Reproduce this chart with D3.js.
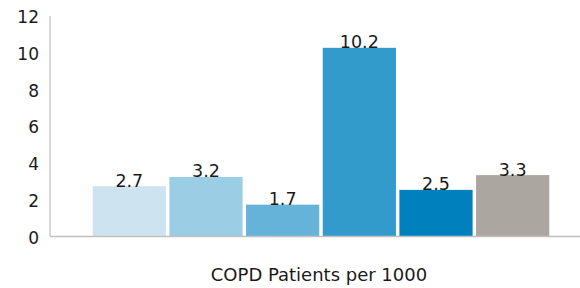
<!DOCTYPE html>
<html>
<head>
<meta charset="utf-8">
<script src="https://cdn.jsdelivr.net/npm/d3@7"></script>
<style>
  body { margin: 0; background: #fff; }
  text { font-family: "DejaVu Sans", Verdana, sans-serif; fill: #1a1a1a; }
</style>
</head>
<body>
<div id="chart"></div>
<script>
var categories = ['s1', 's2', 's3', 's4', 's5', 's6'];
var values = [2.7, 3.2, 1.7, 10.2, 2.5, 3.3];
var colors = ['#cde4f0', '#9bcde5', '#66b3d9', '#339bcc', '#0081be', '#aba69f'];
var yTicks = [0, 2, 4, 6, 8, 10, 12];
var title = 'COPD Patients per 1000';

function createChart() {
    var svg = d3.select('#chart')
        .append('svg')
        .attr('width', 580)
        .attr('height', 288);

    var x = d3.scaleBand()
        .domain(categories)
        .range([91, 551])
        .paddingInner(0.045)
        .paddingOuter(0.0225);

    var y = d3.scaleLinear()
        .domain([0, 12])
        .range([236, 14.6]);

    // bars
    svg.append('g')
        .selectAll('rect')
        .data(values)
        .enter()
        .append('rect')
        .attr('x', (d, i) => x(categories[i]))
        .attr('width', x.bandwidth())
        .attr('y', d => y(d))
        .attr('height', d => y(0) - y(d))
        .style('fill', (d, i) => colors[i]);

    // value labels
    svg.append('g')
        .selectAll('text')
        .data(values)
        .enter()
        .append('text')
        .text(d => d.toFixed(1))
        .attr('x', (d, i) => x(categories[i]) + x.bandwidth() / 2)
        .attr('y', d => y(d) + 0.5)
        .style('font-size', '17.5px')
        .style('text-anchor', 'middle');

    // y axis
    var yAxis = svg.append('g')
        .attr('transform', 'translate(50,0)')
        .call(d3.axisLeft(y).tickValues(yTicks).tickSize(0).tickPadding(11));
    yAxis.select('.domain').attr('stroke', '#c0c0c0').attr('stroke-width', 1.2)
        .attr('d', 'M0,16V' + y(0));
    yAxis.selectAll('text')
        .style('font-size', '17px')
        .attr('dy', '0.45em')
        .style('fill', '#1a1a1a');

    // x baseline
    svg.append('line')
        .attr('x1', 50)
        .attr('x2', 580)
        .attr('y1', y(0) + 0.5)
        .attr('y2', y(0) + 0.5)
        .style('stroke', '#c0c0c0')
        .style('stroke-width', 1.6);

    svg.append('text')
        .text(title)
        .attr('x', 319)
        .attr('y', 281)
        .style('font-size', '18px')
        .style('text-anchor', 'middle');
}

createChart();
</script>
</body>
</html>
